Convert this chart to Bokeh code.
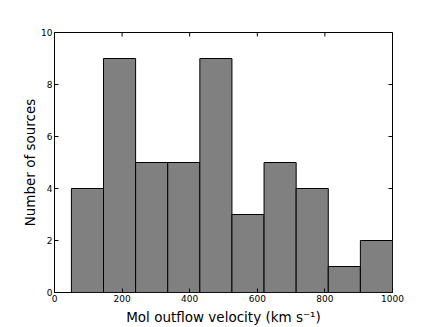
import math
from bokeh.plotting import figure
from bokeh.models import Range1d, FixedTicker
from bokeh.embed import file_html
from bokeh.resources import INLINE

# histogram data
bin_edges = [50, 145, 240, 335, 430, 525, 620, 715, 810, 905, 1000]
counts = [4, 9, 5, 5, 9, 3, 5, 4, 1, 2]
x_ticks = [0, 200, 400, 600, 800, 1000]
y_ticks = [0, 2, 4, 6, 8, 10]
x_min, x_max = 0, 1000
y_min, y_max = 0, 10

p = figure(width=436, height=327, output_backend="svg", toolbar_location=None,
           x_range=Range1d(x_min, x_max), y_range=Range1d(y_min, y_max),
           min_border_left=54, min_border_right=44, min_border_top=32, min_border_bottom=33)
p.grid.visible = False
p.outline_line_color = "black"
p.outline_line_width = 1
p.background_fill_color = "white"
p.border_fill_color = "white"

p.quad(left=bin_edges[:-1], right=bin_edges[1:], bottom=0, top=counts,
       fill_color="#808080", line_color="black", line_width=1)

# inward ticks on the top and right edges (markers half clipped by the frame)
p.scatter(x=x_ticks, y=[y_max] * len(x_ticks), marker="dash", size=8,
          angle=math.pi / 2, line_color="black", line_width=1)
p.scatter(x=[x_max] * len(y_ticks), y=y_ticks, marker="dash", size=8,
          line_color="black", line_width=1)

FONT = "DejaVu Sans"
for ax in [p.xaxis[0], p.yaxis[0]]:
    ax.major_tick_in = 4
    ax.major_tick_out = 0
    ax.minor_tick_line_color = None
    ax.axis_line_color = None
    ax.major_label_text_font = FONT
    ax.major_label_text_font_size = "9px"
    ax.major_label_text_color = "black"
    ax.axis_label_text_font = FONT
    ax.axis_label_text_font_size = "13.5px"
    ax.axis_label_text_font_style = "normal"
    ax.axis_label_text_color = "black"
    ax.major_label_standoff = 2

p.xaxis[0].ticker = FixedTicker(ticks=x_ticks)
p.yaxis[0].ticker = FixedTicker(ticks=y_ticks)
p.xaxis[0].axis_label = "Mol outflow velocity (km s\u207b\u00b9)"
p.yaxis[0].axis_label = "Number of sources"
p.xaxis[0].axis_label_standoff = 4
p.yaxis[0].axis_label_standoff = 0

open("out.html", "w").write(file_html(p, INLINE))
